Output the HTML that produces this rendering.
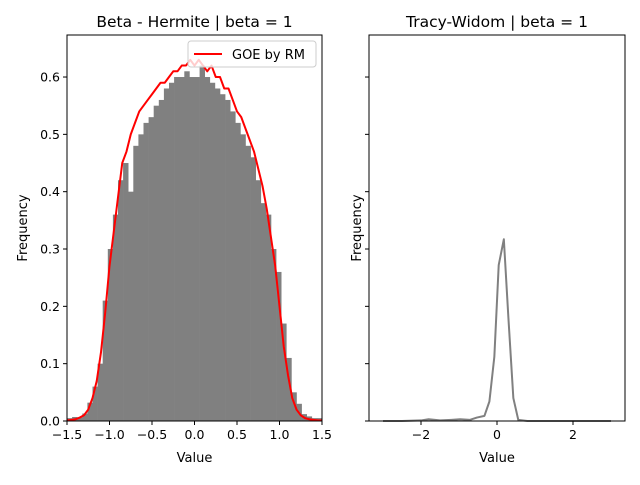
<!DOCTYPE html>
<html><head><meta charset="utf-8"><style>
body{margin:0;background:#fff;}
svg text{font-family:"DejaVu Sans","Liberation Sans",sans-serif;fill:#000;}
</style></head><body>
<svg id="chart" width="640" height="480" viewBox="0 0 640 480" xmlns="http://www.w3.org/2000/svg">
<rect width="640" height="480" fill="#fff"/>
<g id="left"></g>
<g id="right"></g>
</svg>
<script>
const histCenters=[-1.47,-1.41,-1.35,-1.29,-1.23,-1.17,-1.11,-1.05,-0.99,-0.93,-0.87,-0.81,-0.75,-0.69,-0.63,-0.57,-0.51,-0.45,-0.39,-0.33,-0.27,-0.21,-0.15,-0.09,-0.03,0.03,0.09,0.15,0.21,0.27,0.33,0.39,0.45,0.51,0.57,0.63,0.69,0.75,0.81,0.87,0.93,0.99,1.05,1.11,1.17,1.23,1.29,1.35,1.41,1.47];
const histValues=[.005,.007,.006,.013,.032,.06,.10,.21,.30,.36,.42,.45,.40,.48,.50,.52,.53,.55,.56,.58,.59,.60,.60,.61,.60,.60,.62,.60,.59,.58,.57,.56,.54,.52,.50,.48,.46,.42,.38,.36,.30,.26,.17,.11,.05,.03,.012,.008,.005,.005];
const goeX=[-1.5,-1.45,-1.4,-1.35,-1.3,-1.25,-1.2,-1.15,-1.1,-1.05,-1.0,-0.95,-0.9,-0.85,-0.8,-0.75,-0.7,-0.65,-0.6,-0.55,-0.5,-0.45,-0.4,-0.35,-0.3,-0.25,-0.2,-0.15,-0.1,-0.05,0,0.05,0.1,0.15,0.2,0.25,0.3,0.35,0.4,0.45,0.5,0.55,0.6,0.65,0.7,0.75,0.8,0.85,0.9,0.95,1.0,1.05,1.1,1.15,1.2,1.25,1.3,1.35,1.4,1.45,1.5];
const goeY=[.001,.002,.003,.006,.01,.02,.04,.07,.12,.19,.27,.33,.39,.45,.47,.50,.52,.54,.55,.56,.57,.58,.59,.59,.60,.61,.61,.62,.62,.63,.62,.63,.62,.61,.62,.60,.60,.58,.58,.56,.54,.53,.51,.49,.47,.44,.41,.37,.32,.27,.20,.13,.08,.04,.02,.01,.005,.003,.002,.001,.001];
const twX=[-3,-2.5,-2,-1.8,-1.5,-1.2,-0.97,-0.71,-0.53,-0.33,-0.2,-0.07,0.045,0.18,0.3,0.43,0.56,0.8,1.5,2,3];
const twY=[0,0,.001,.003,.001,.002,.003,.002,.006,.009,.034,.112,.272,.317,.18,.04,.002,0,0,0,0];
const leftTicksX=[-1.5,-1.0,-0.5,0.0,0.5,1.0,1.5];
const leftTickLabelsX=["−1.5","−1.0","−0.5","0.0","0.5","1.0","1.5"];
const ticksY=[0,0.1,0.2,0.3,0.4,0.5,0.6];
const tickLabelsY=["0.0","0.1","0.2","0.3","0.4","0.5","0.6"];
const rightTicksX=[-2,0,2];
const rightTickLabelsX=["−2","0","2"];
const NS="http://www.w3.org/2000/svg";
function mk(parent,tag,attrs,text){const e=document.createElementNS(NS,tag);for(const k in attrs)e.setAttribute(k,attrs[k]);if(text!==undefined)e.textContent=text;parent.appendChild(e);return e;}
const topY=35,bot=421;
const yS=v=>bot-v*573.3;
const L=document.getElementById('left');
const lx0=67,lx1=322;const xL=v=>lx0+(v+1.5)/3*(lx1-lx0);
const bw=0.06;
histCenters.forEach((c,i)=>{const x0=xL(c-bw/2),x1=xL(c+bw/2);const r=mk(L,'rect',{x:x0,y:yS(histValues[i]),width:x1-x0+0.3,height:bot-yS(histValues[i]),fill:'#808080'});

});
const gl=mk(L,'polyline',{points:goeX.map((x,i)=>xL(x)+','+yS(goeY[i])).join(' '),fill:'none',stroke:'#ff0000','stroke-width':2,'stroke-linejoin':'round'});


function axes(g,x0,x1,xs,ticks,labels,title,showY){
  mk(g,'rect',{x:x0,y:topY,width:x1-x0,height:bot-topY,fill:'none',stroke:'#000','stroke-width':1});
  ticks.forEach((t,i)=>{const x=xs(t);mk(g,'line',{x1:x,x2:x,y1:bot,y2:bot+4,stroke:'#000'});
    const tl=mk(g,'text',{x:x,y:bot+18,'text-anchor':'middle','font-size':12.5},labels[i]);
    
    });
  ticksY.forEach((t,i)=>{const y=yS(t);mk(g,'line',{x1:x0-4,x2:x0,y1:y,y2:y,stroke:'#000'});
    if(showY){const tl=mk(g,'text',{x:x0-7,y:y+4.5,'text-anchor':'end','font-size':12.5},tickLabelsY[i]);
    
    }});
  const xt=mk(g,'text',{x:(x0+x1)/2,y:bot+41,'text-anchor':'middle','font-size':13},'Value');
  
  
  const yx=showY?27:361;
  const yt=mk(g,'text',{x:yx,y:(topY+bot)/2,'text-anchor':'middle','font-size':13,transform:`rotate(-90 ${yx} ${(topY+bot)/2})`},'Frequency');
  
  
  const tt=mk(g,'text',{x:(x0+x1)/2,y:27,'text-anchor':'middle','font-size':15.5},title);
  
  
}
axes(L,lx0,lx1,xL,leftTicksX,leftTickLabelsX,'Beta - Hermite | beta = 1',true);
const lg=mk(L,'g',{});


mk(lg,'rect',{x:188,y:41,width:128,height:26,rx:3,fill:'#fff','fill-opacity':0.8,stroke:'#ccc'});
mk(lg,'line',{x1:194,x2:222,y1:54,y2:54,stroke:'#ff0000','stroke-width':2});
mk(lg,'text',{x:232,y:59,'font-size':13},'GOE by RM');
const R=document.getElementById('right');
const rx0=369,rx1=625;const xR=v=>497+v*38;
const tl=mk(R,'polyline',{points:twX.map((x,i)=>xR(x)+','+yS(twY[i])).join(' '),fill:'none',stroke:'#808080','stroke-width':2,'stroke-linejoin':'round'});


axes(R,rx0,rx1,xR,rightTicksX,rightTickLabelsX,'Tracy-Widom | beta = 1',false);
</script>
</body></html>
